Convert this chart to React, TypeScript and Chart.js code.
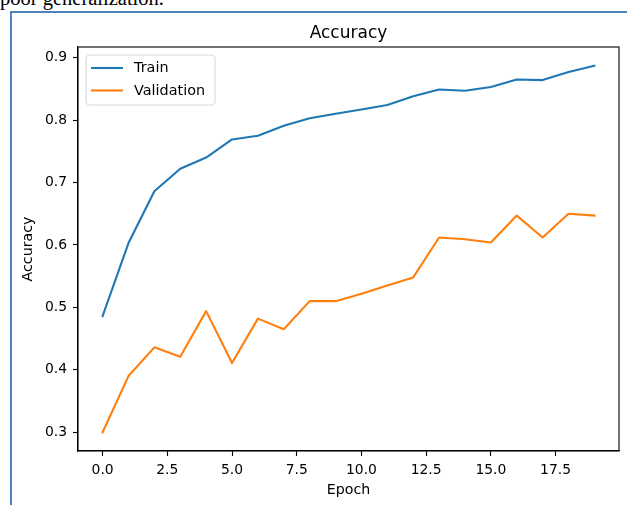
import React, { useEffect, useRef } from "react";
import { Chart, registerables } from "chart.js";

Chart.register(...registerables);

// ---- data ----
const epochs = [0, 1, 2, 3, 4, 5, 6, 7, 8, 9, 10, 11, 12, 13, 14, 15, 16, 17, 18, 19];
const trainAcc = [0.486, 0.603, 0.686, 0.722, 0.740, 0.769, 0.775, 0.791, 0.803, 0.810, 0.817, 0.824, 0.838, 0.849, 0.847, 0.853, 0.865, 0.864, 0.877, 0.887];
const valAcc = [0.300, 0.390, 0.436, 0.421, 0.494, 0.411, 0.482, 0.465, 0.510, 0.510, 0.522, 0.535, 0.548, 0.612, 0.609, 0.604, 0.647, 0.612, 0.650, 0.647];
const xTicks = [0, 2.5, 5, 7.5, 10, 12.5, 15, 17.5];
const yTicks = [0.3, 0.4, 0.5, 0.6, 0.7, 0.8, 0.9];
const seriesNames = ["Train", "Validation"];
const seriesColors = ["#1f77b4", "#ff7f0e"];
const chartTitle = "Accuracy";
const xTitle = "Epoch";
const yTitle = "Accuracy";
const captionText = "poor generalization.";

const FONT = "'DejaVu Sans', sans-serif";

const framePlugin = {
  id: "mplFrame",
  afterDatasetsDraw(chart: any) {
    const { ctx, chartArea } = chart;
    const { left, top, right, bottom } = chartArea;
    ctx.save();
    // frame
    ctx.strokeStyle = "#000";
    ctx.lineWidth = 1.1;
    ctx.strokeRect(left, top, right - left, bottom - top);

    // legend
    const lx = 86, ly = 55, lw = 129, lh = 50, r = 3.5;
    ctx.beginPath();
    ctx.moveTo(lx + r, ly);
    ctx.lineTo(lx + lw - r, ly);
    ctx.arcTo(lx + lw, ly, lx + lw, ly + r, r);
    ctx.lineTo(lx + lw, ly + lh - r);
    ctx.arcTo(lx + lw, ly + lh, lx + lw - r, ly + lh, r);
    ctx.lineTo(lx + r, ly + lh);
    ctx.arcTo(lx, ly + lh, lx, ly + lh - r, r);
    ctx.lineTo(lx, ly + r);
    ctx.arcTo(lx, ly, lx + r, ly, r);
    ctx.closePath();
    ctx.fillStyle = "rgba(255,255,255,0.8)";
    ctx.fill();
    ctx.strokeStyle = "#d6d6d6";
    ctx.lineWidth = 1;
    ctx.stroke();

    const rows = [68, 90.5];
    chart.data.datasets.forEach((ds: any, i: number) => {
      ctx.strokeStyle = ds.borderColor;
      ctx.lineWidth = 2.1;
      ctx.beginPath();
      ctx.moveTo(91, rows[i]);
      ctx.lineTo(123, rows[i]);
      ctx.stroke();
      ctx.fillStyle = "#000";
      ctx.font = `14.4px ${FONT}`;
      ctx.textAlign = "left";
      ctx.textBaseline = "middle";
      ctx.fillText(ds.label, 134, rows[i] + 0.5);
    });

    // title
    ctx.fillStyle = "#000";
    ctx.font = `17px ${FONT}`;
    ctx.textAlign = "center";
    ctx.textBaseline = "alphabetic";
    ctx.fillText(chartTitle, (left + right) / 2, 38);

    // x title
    ctx.font = `14.2px ${FONT}`;
    ctx.fillText(xTitle, (left + right) / 2, 494);

    // y title
    ctx.translate(32, (top + bottom) / 2);
    ctx.rotate(-Math.PI / 2);
    ctx.fillText(yTitle, 0, 0);
    ctx.restore();
  },
};

export default function App() {
  const canvasRef = useRef<HTMLCanvasElement | null>(null);

  useEffect(() => {
    const canvas = canvasRef.current;
    if (!canvas) return;
    const chart = new Chart(canvas, {
      type: "line",
      data: {
        datasets: [
          {
            label: seriesNames[0],
            data: epochs.map((e, i) => ({ x: e, y: trainAcc[i] })),
            borderColor: seriesColors[0],
            backgroundColor: seriesColors[0],
            borderWidth: 2.1,
            pointRadius: 0,
            tension: 0,
            borderJoinStyle: "round",
            borderCapStyle: "square",
          },
          {
            label: seriesNames[1],
            data: epochs.map((e, i) => ({ x: e, y: valAcc[i] })),
            borderColor: seriesColors[1],
            backgroundColor: seriesColors[1],
            borderWidth: 2.1,
            pointRadius: 0,
            tension: 0,
            borderJoinStyle: "round",
            borderCapStyle: "square",
          },
        ],
      },
      options: {
        responsive: false,
        animation: false,
        devicePixelRatio: 1,
        layout: { padding: { left: 0, top: 47, right: 8, bottom: 0 } },
        plugins: {
          legend: { display: false },
          title: { display: false },
          tooltip: { enabled: false },
        },
        scales: {
          x: {
            type: "linear",
            min: -0.95,
            max: 19.95,
            afterBuildTicks: (s: any) => {
              s.ticks = xTicks.map((v) => ({ value: v }));
            },
            afterFit: (s: any) => {
              s.height = 54;
            },
            grid: {
              drawOnChartArea: false,
              drawTicks: true,
              tickLength: 5,
              tickColor: "#000",
              tickWidth: 1.1,
            },
            border: { display: true, color: "#000", width: 1.1 },
            ticks: {
              color: "#000",
              font: { family: FONT, size: 13.9 },
              padding: 6,
              maxRotation: 0,
              autoSkip: false,
              callback: (v: any) => Number(v).toFixed(1),
            },
          },
          y: {
            type: "linear",
            min: 0.27,
            max: 0.917,
            afterBuildTicks: (s: any) => {
              s.ticks = yTicks.map((v) => ({ value: v }));
            },
            afterFit: (s: any) => {
              s.width = 78;
            },
            grid: {
              drawOnChartArea: false,
              drawTicks: true,
              tickLength: 5,
              tickColor: "#000",
              tickWidth: 1.1,
            },
            border: { display: true, color: "#000", width: 1.1 },
            ticks: {
              color: "#000",
              font: { family: FONT, size: 13.9 },
              padding: 6,
              autoSkip: false,
              callback: (v: any) => Number(v).toFixed(1),
            },
          },
        },
      },
      plugins: [framePlugin],
    } as any);
    return () => chart.destroy();
  }, []);

  return (
    <div
      style={{
        position: "absolute",
        left: 0,
        top: 0,
        width: 627,
        height: 505,
        overflow: "hidden",
        background: "#fff",
      }}
    >
      <div
        style={{
          position: "absolute",
          left: 0,
          top: -11.7,
          fontFamily: "'Liberation Serif', 'Times New Roman', serif",
          fontSize: 20.5,
          lineHeight: "20.5px",
          color: "#000",
          whiteSpace: "nowrap",
        }}
      >
        {captionText}
      </div>
      <div
        style={{
          position: "absolute",
          left: 10,
          top: 11,
          width: 700,
          height: 600,
          borderLeft: "2px solid #4f81bd",
          borderTop: "2px solid #4f81bd",
        }}
      />
      <canvas
        ref={canvasRef}
        width={627}
        height={505}
        style={{ position: "absolute", left: 0, top: 0, width: 627, height: 505 }}
      />
    </div>
  );
}
